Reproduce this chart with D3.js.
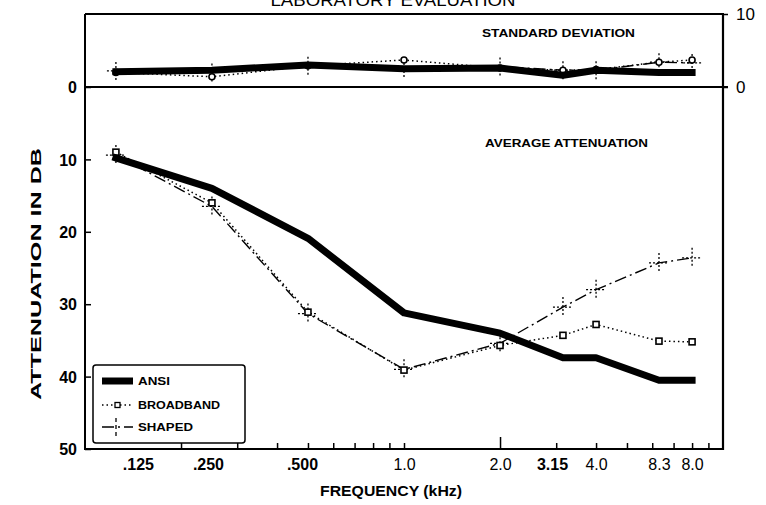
<!DOCTYPE html>
<html>
<head>
<meta charset="utf-8">
<script src="https://cdn.jsdelivr.net/npm/d3@7"></script>
<style>
  html, body { margin: 0; padding: 0; background: #fff; }
  svg { display: block; }
  text { font-family: "Liberation Sans", Arial, Helvetica, sans-serif; fill: #000; }
</style>
</head>
<body>
<svg id="chart" width="766" height="505"></svg>
<script>
// Test frequencies (kHz) and the labels printed under the axis
const freqs = [0.125, 0.25, 0.5, 1, 2, 3.15, 4, 6.3, 8];
const tickLabels = [".125", ".250", ".500", "1.0", "2.0", "3.15", "4.0", "8.3", "8.0"];
const boldLabels = [".125", ".250", ".500", "3.15"];
const minorTicks = [0.2, 0.3, 0.4, 0.5, 0.6, 0.7, 0.8, 0.9, 1, 2, 3, 4, 5, 6, 7, 8, 9];
const attenTicks = [0, 10, 20, 30, 40, 50];
const sdTicks = [0, 10];

// Average attenuation (dB)
const ansiAvg      = [9.8, 14.0, 20.9, 31.2, 34.0, 37.4, 37.4, 40.5, 40.5];
const broadbandAvg = [9.0, 16.0, 31.1, 39.1, 35.7, 34.3, 32.8, 35.1, 35.2];
const shapedAvg    = [9.4, 16.5, 31.3, 39.0, 35.4, 30.4, 28.0, 24.3, 23.6];

// Standard deviation (dB)
const ansiSD      = [2.1, 2.3, 3.0, 2.5, 2.6, 1.6, 2.3, 2.0, 2.0];
const broadbandSD = [2.0, 1.4, 2.9, 3.7, 2.6, 2.3, 2.4, 3.4, 3.7];
const shapedSD    = [2.2, 2.0, 2.9, 2.6, 2.8, 2.3, 2.3, 3.4, 3.3];

const svg = d3.select("#chart");

const plotL = 85, plotR = 723, plotT = 14, zeroY = 87, plotB = 449;

const x = d3.scaleLog().domain([0.1, 10]).range([plotL, plotR]);
const yAvg = d3.scaleLinear().domain([0, 50]).range([zeroY, plotB]);
const ySD = d3.scaleLinear().domain([0, 10]).range([zeroY, plotT]);

// Title, cut by the top edge of the sheet
svg.append("text")
  .attr("x", 393).attr("y", 6)
  .attr("text-anchor", "middle")
  .attr("font-size", 16)
  .attr("textLength", 245).attr("lengthAdjust", "spacingAndGlyphs")
  .text("LABORATORY EVALUATION");

// Frame: top panel box, dividing zero line, right border
const frame = svg.append("g").attr("fill", "none").attr("stroke", "#000");
frame.append("line").attr("x1", plotL).attr("x2", plotR + 1).attr("y1", plotT).attr("y2", plotT).attr("stroke-width", 2.2);
frame.append("line").attr("x1", plotL).attr("x2", plotR + 5).attr("y1", zeroY).attr("y2", zeroY).attr("stroke-width", 2.2);
frame.append("line").attr("x1", plotR).attr("x2", plotR).attr("y1", plotT).attr("y2", plotB + 1).attr("stroke-width", 2.2);

// Left axis (attenuation)
const gy = svg.append("g")
  .attr("transform", `translate(${plotL},0)`)
  .call(d3.axisLeft(yAvg).tickValues(attenTicks).tickSize(-6).tickPadding(8).tickFormat(d3.format("d")));
gy.select(".domain").remove();
gy.append("line").attr("x1", 0).attr("x2", 0).attr("y1", plotT).attr("y2", plotB + 1)
  .attr("stroke", "#000").attr("stroke-width", 2);
gy.selectAll(".tick line").attr("stroke-width", 1.5);
gy.selectAll(".tick text").attr("font-size", 16).attr("font-weight", "bold").attr("dy", "0.36em");

// Right axis of the standard deviation panel
const gr = svg.append("g")
  .attr("transform", `translate(${plotR},0)`)
  .call(d3.axisRight(ySD).tickValues(sdTicks).tickSize(5).tickPadding(8));
gr.select(".domain").remove();
gr.selectAll(".tick line").attr("stroke-width", 1.5);
gr.selectAll(".tick text").attr("font-size", 17).attr("dy", "0.32em");

// Bottom axis: minor ticks pointing up
const gxMinor = svg.append("g")
  .attr("transform", `translate(0,${plotB})`)
  .call(d3.axisBottom(x).tickValues(minorTicks).tickSize(-6).tickFormat(""));
gxMinor.select(".domain").remove();
gxMinor.selectAll(".tick line")
  .attr("stroke-width", 1.5)
  .attr("y2", d => d === 2 ? -12 : (d === 0.2 || d === 0.3 ? -8 : -6));
svg.append("line").attr("x1", plotL).attr("x2", plotR + 1).attr("y1", plotB).attr("y2", plotB)
  .attr("stroke", "#000").attr("stroke-width", 2.2);

// Bottom axis labels at the test frequencies
const labelNudge = { ".125": 22, ".250": -4, ".500": -6, "3.15": -11 };
const gxLab = svg.append("g")
  .attr("transform", `translate(0,${plotB})`)
  .call(d3.axisBottom(x).tickValues(freqs).tickSize(0).tickPadding(10)
    .tickFormat((d, i) => tickLabels[i]));
gxLab.select(".domain").remove();
gxLab.selectAll(".tick text")
  .attr("font-size", 16)
  .attr("font-weight", (d, i) => boldLabels.includes(tickLabels[i]) ? "bold" : "normal")
  .attr("dx", (d, i) => labelNudge[tickLabels[i]] || 0);

// Axis titles
svg.append("text")
  .attr("x", 391).attr("y", 496)
  .attr("text-anchor", "middle")
  .attr("font-size", 14).attr("font-weight", "bold")
  .attr("textLength", 142).attr("lengthAdjust", "spacingAndGlyphs")
  .text("FREQUENCY (kHz)");

svg.append("text")
  .attr("transform", "translate(41,274) rotate(-90)")
  .attr("text-anchor", "middle")
  .attr("font-size", 15).attr("font-weight", "bold")
  .attr("textLength", 252).attr("lengthAdjust", "spacingAndGlyphs")
  .text("ATTENUATION IN DB");

// Panel captions
svg.append("text")
  .attr("x", 482).attr("y", 37)
  .attr("font-size", 10).attr("font-weight", "bold")
  .attr("textLength", 153).attr("lengthAdjust", "spacingAndGlyphs")
  .text("STANDARD DEVIATION");

svg.append("text")
  .attr("x", 485).attr("y", 147)
  .attr("font-size", 10).attr("font-weight", "bold")
  .attr("textLength", 163).attr("lengthAdjust", "spacingAndGlyphs")
  .text("AVERAGE ATTENUATION");

// Series styles
const styles = {
  ansi:      { width: 7,   dash: null },
  broadband: { width: 1.5, dash: "1.5,3" },
  shaped:    { width: 1.4, dash: "12,4,2,4" }
};

function drawLine(values, yScale, style) {
  const line = d3.line()
    .x((d, i) => x(freqs[i]))
    .y(d => yScale(d));
  svg.append("path")
    .datum(values)
    .attr("d", line)
    .attr("fill", "none")
    .attr("stroke", "#000")
    .attr("stroke-width", style.width)
    .attr("stroke-linejoin", "round")
    .attr("stroke-linecap", style.dash ? "butt" : "square")
    .attr("stroke-dasharray", style.dash);
}

function drawCrosses(values, yScale, half) {
  const g = svg.append("g").attr("stroke", "#000").attr("stroke-width", 1.3).attr("stroke-dasharray", "2,2");
  values.forEach((v, i) => {
    const cx = x(freqs[i]), cy = yScale(v);
    g.append("line").attr("x1", cx).attr("x2", cx).attr("y1", cy - half).attr("y2", cy + half);
    g.append("line").attr("x1", cx - half).attr("x2", cx + half).attr("y1", cy).attr("y2", cy);
  });
}

function drawSquares(values, yScale) {
  svg.append("g").selectAll("rect").data(values).join("rect")
    .attr("x", (d, i) => x(freqs[i]) - 3)
    .attr("y", d => yScale(d) - 3)
    .attr("width", 6).attr("height", 6)
    .attr("fill", "#fff").attr("stroke", "#000").attr("stroke-width", 1.6);
}

function drawCircles(values, yScale) {
  svg.append("g").selectAll("circle").data(values).join("circle")
    .attr("cx", (d, i) => x(freqs[i]))
    .attr("cy", d => yScale(d))
    .attr("r", 3)
    .attr("fill", "#fff").attr("stroke", "#000").attr("stroke-width", 1.6);
}

// Standard deviation panel
drawLine(shapedSD, ySD, styles.shaped);
drawLine(broadbandSD, ySD, styles.broadband);
drawCrosses(shapedSD, ySD, 9);
drawCircles(broadbandSD, ySD);
drawLine(ansiSD, ySD, { width: 7, dash: null });

// Average attenuation panel
drawLine(shapedAvg, yAvg, styles.shaped);
drawLine(broadbandAvg, yAvg, styles.broadband);
drawCrosses(shapedAvg, yAvg, 10);
drawSquares(broadbandAvg, yAvg);
drawLine(ansiAvg, yAvg, styles.ansi);

// Legend
const legend = svg.append("g");
legend.append("rect")
  .attr("x", 93).attr("y", 365).attr("width", 152).attr("height", 78).attr("rx", 3)
  .attr("fill", "#fff").attr("stroke", "#000").attr("stroke-width", 1.5);

const legendRows = [
  { name: "ANSI", key: "ansi", y: 381, len: 32 },
  { name: "BROADBAND", key: "broadband", y: 405, len: 82 },
  { name: "SHAPED", key: "shaped", y: 427, len: 55 }
];
legendRows.forEach(r => {
  const st = styles[r.key];
  legend.append("line")
    .attr("x1", 102).attr("x2", 133).attr("y1", r.y).attr("y2", r.y)
    .attr("stroke", "#000").attr("stroke-width", st.width)
    .attr("stroke-dasharray", st.dash);
  if (r.key === "broadband") {
    legend.append("rect").attr("x", 115).attr("y", r.y - 2.5).attr("width", 5).attr("height", 5)
      .attr("fill", "#fff").attr("stroke", "#000").attr("stroke-width", 1.3);
  }
  if (r.key === "shaped") {
    legend.append("line").attr("x1", 116).attr("x2", 116).attr("y1", r.y - 9).attr("y2", r.y + 9)
      .attr("stroke", "#000").attr("stroke-width", 1.3).attr("stroke-dasharray", "4,3");
  }
  legend.append("text")
    .attr("x", 138).attr("y", r.y + 4)
    .attr("font-size", 10).attr("font-weight", "bold")
    .attr("textLength", r.len).attr("lengthAdjust", "spacingAndGlyphs")
    .text(r.name);
});
</script>
</body>
</html>
